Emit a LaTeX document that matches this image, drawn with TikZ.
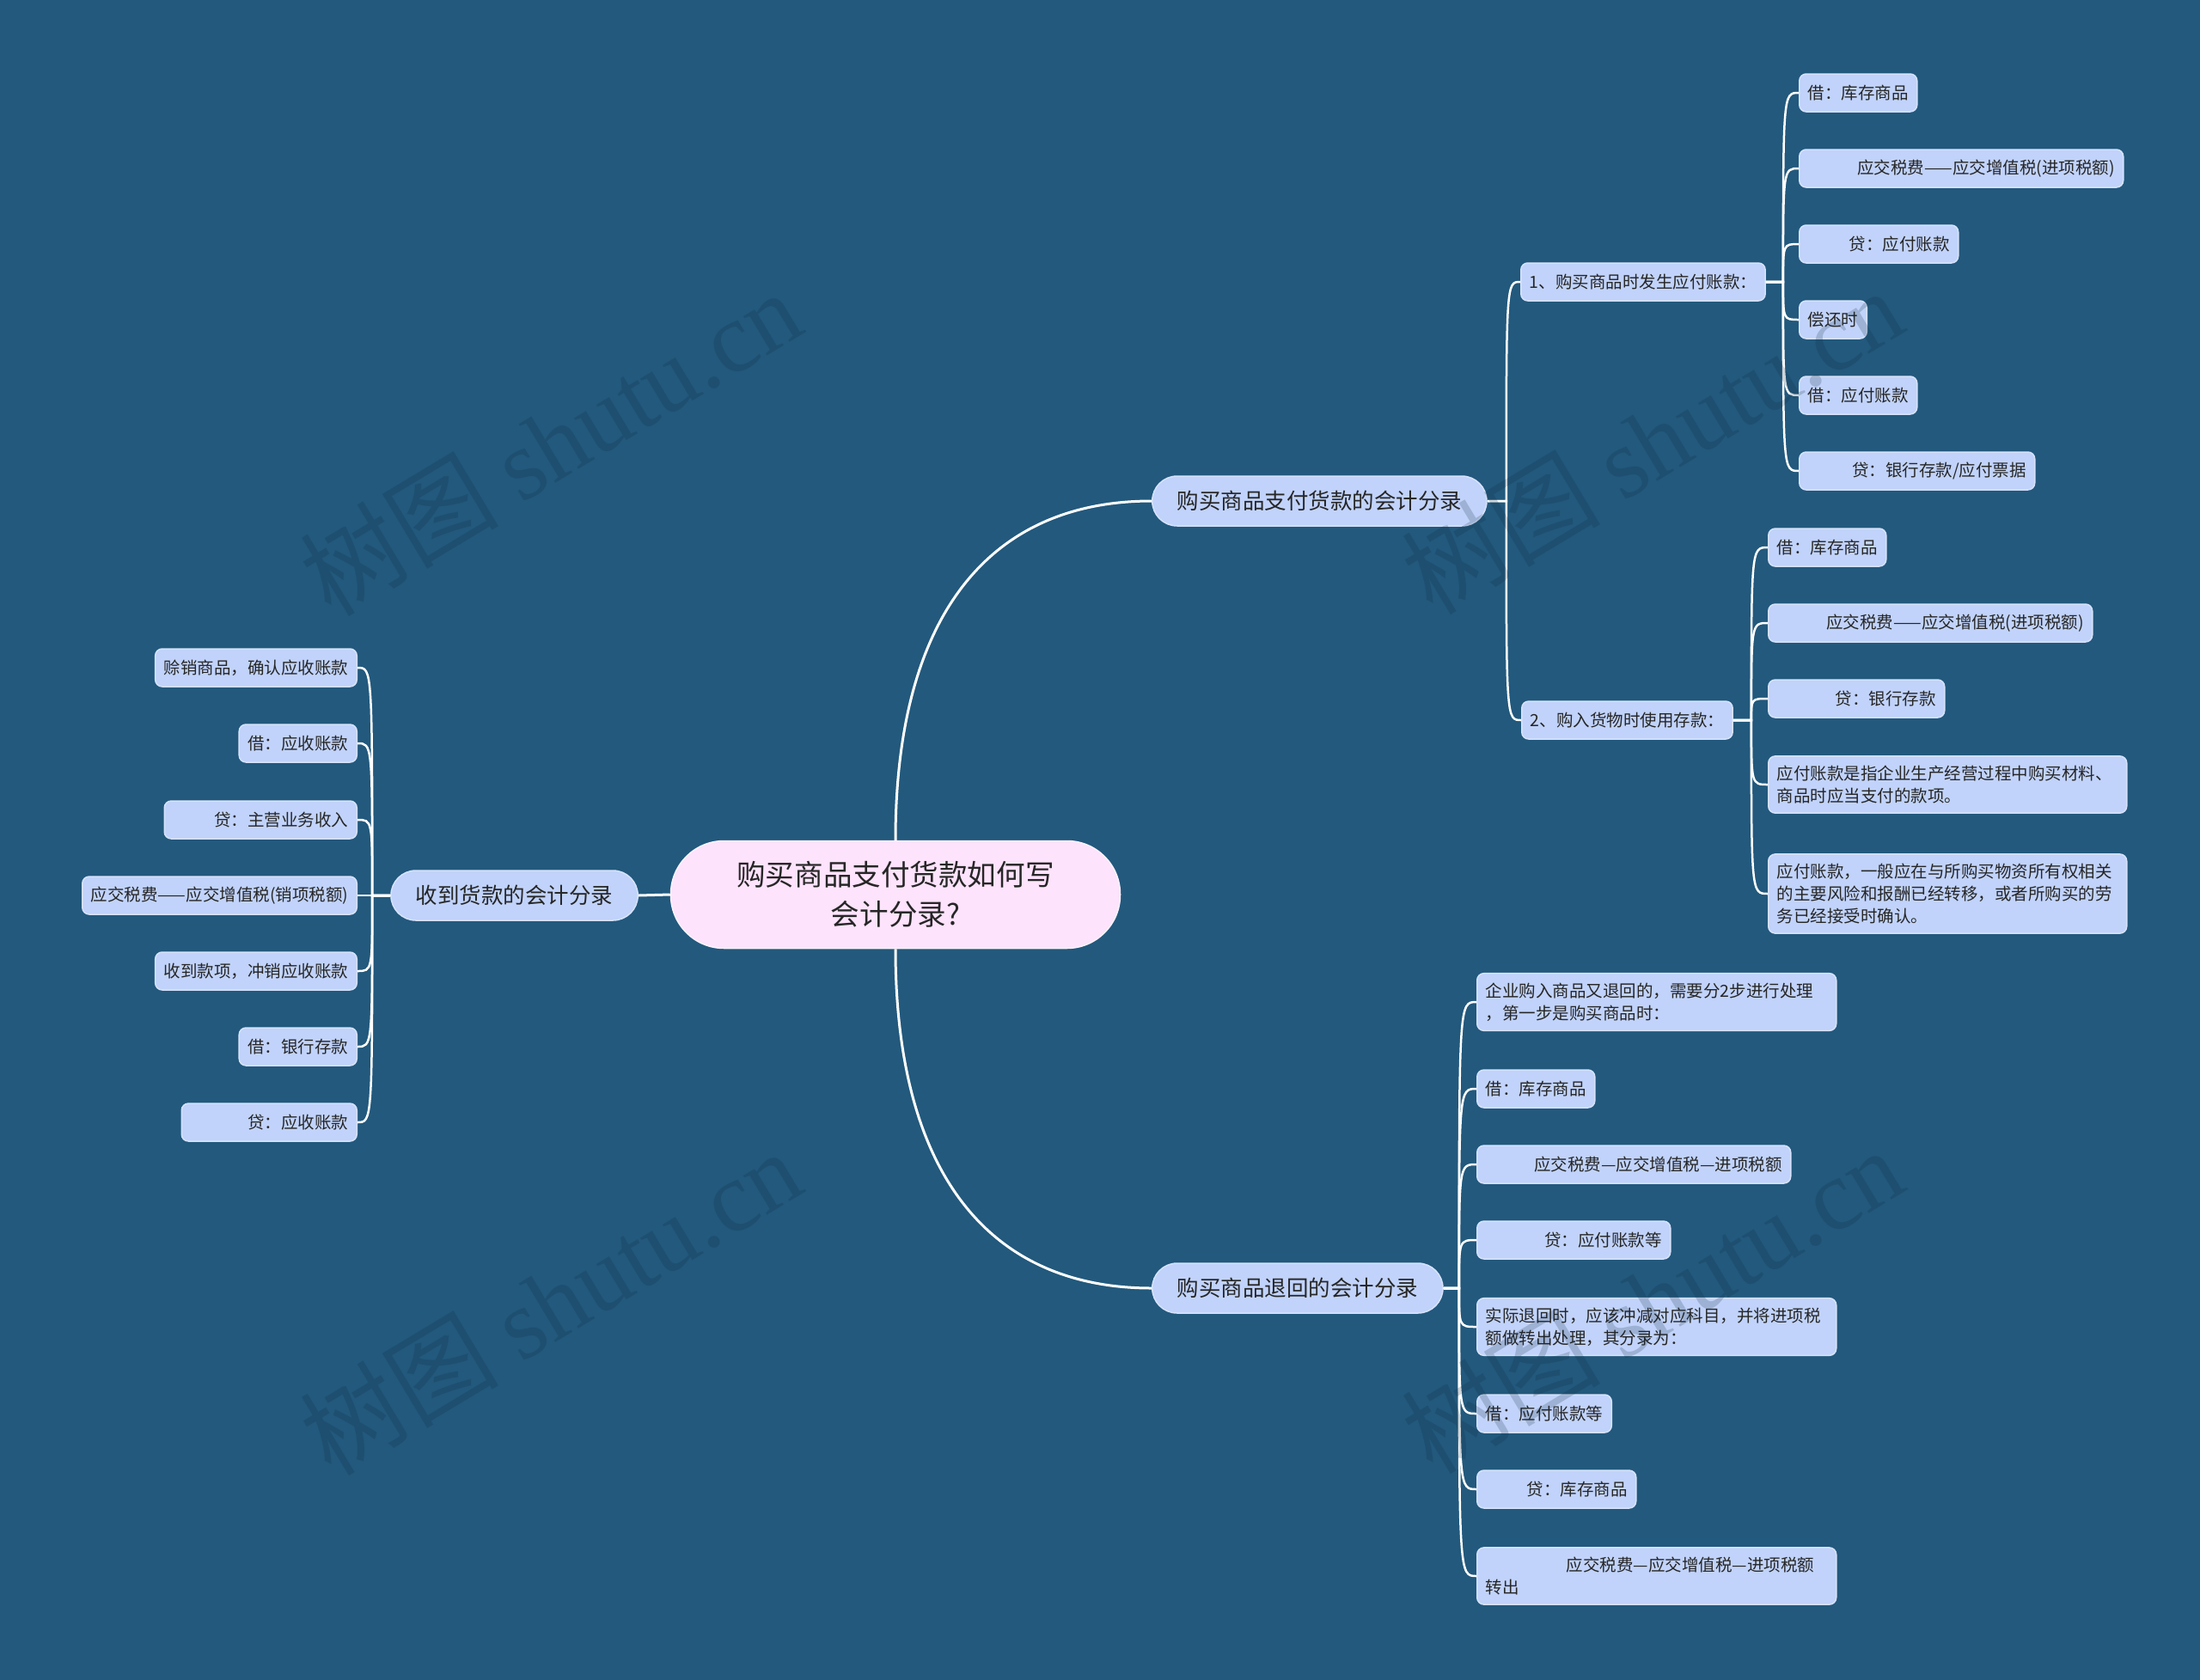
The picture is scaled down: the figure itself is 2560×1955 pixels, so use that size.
\documentclass[tikz,border=0pt]{standalone}
\usepackage{fontspec}
\setmainfont{Noto Sans CJK SC}
\newfontfamily\wmlatin{Liberation Serif}
\usepackage{tikz}
\usetikzlibrary{calc}

\definecolor{bgcol}{HTML}{22597D}
\definecolor{boxfill}{HTML}{C1D3FA}
\definecolor{boxedge}{HTML}{D6E2FC}
\definecolor{rootfill}{HTML}{FDE3FB}
\definecolor{inkcol}{HTML}{262626}
\definecolor{wmcol}{HTML}{0F2A3C}

\newcommand{\leaffont}{\fontsize{5.55pt}{7.4pt}\selectfont}
\newcommand{\topicfont}{\fontsize{7.25pt}{9pt}\selectfont}
\newcommand{\rootfont}{\fontsize{9.55pt}{13.1pt}\selectfont}

\tikzset{
  leaf/.style={draw=boxedge, line width=0.15mm, fill=boxfill, rounded corners=0.8mm, inner xsep=1mm, inner ysep=1.1mm, minimum height=4.4mm, text=inkcol, font=\leaffont},
  topic/.style={draw=boxedge, line width=0.15mm, fill=boxfill, rounded corners=2.9mm, inner xsep=2.9mm, minimum height=5.8mm, text=inkcol, font=\topicfont},
  root/.style={draw=white!55!rootfill, line width=0.15mm, fill=rootfill, rounded corners=6.2mm, minimum width=52.3mm, minimum height=12.5mm, align=center, text=inkcol, font=\rootfont},
  link/.style={draw=white, line width=0.25mm},
  wmark/.style={rotate=31, text=wmcol, text opacity=0.2, font=\fontsize{33pt}{33pt}\selectfont}
}

\begin{document}
\begin{tikzpicture}[x=0.1mm, y=-0.1mm]
  \useasboundingbox (0,0) rectangle (2560,1955);
  \fill[bgcol] (0,0) rectangle (2560,1955);

  \node[root] (root) at (1042,1041) {购买商品支付货款如何写\\会计分录?};
  \node[topic, anchor=west] (m1) at (1340,583) {购买商品支付货款的会计分录};
  \node[topic, anchor=west] (m2) at (1340,1499) {购买商品退回的会计分录};
  \node[topic, anchor=east] (m3) at (743,1042) {收到货款的会计分录};

  \node[leaf, anchor=west] (s1) at (1769,328) {1、购买商品时发生应付账款：};
  \node[leaf, anchor=west] (s2) at (1770,838) {2、购入货物时使用存款：};

  \node[leaf, anchor=west] (l11) at (2093,108) {借：库存商品};
  \node[leaf, anchor=west, text width=35.7mm, align=right] (l12) at (2093,196) {应交税费——应交增值税(进项税额)};
  \node[leaf, anchor=west, text width=16.5mm, align=right] (l13) at (2093,284) {贷：应付账款};
  \node[leaf, anchor=west] (l14) at (2093,372) {偿还时};
  \node[leaf, anchor=west] (l15) at (2093,460) {借：应付账款};
  \node[leaf, anchor=west, text width=25.4mm, align=right] (l16) at (2093,548) {贷：银行存款/应付票据};

  \node[leaf, anchor=west] (l21) at (2057,637) {借：库存商品};
  \node[leaf, anchor=west, text width=35.7mm, align=right] (l22) at (2057,725) {应交税费——应交增值税(进项税额)};
  \node[leaf, anchor=west, text width=18.5mm, align=right] (l23) at (2057,813) {贷：银行存款};
  \node[leaf, anchor=west, text width=39.7mm, align=left] (l24) at (2057,913) {应付账款是指企业生产经营过程中购买材料、\\商品时应当支付的款项。};
  \node[leaf, anchor=west, text width=39.7mm, align=left] (l25) at (2057,1040) {应付账款，一般应在与所购买物资所有权相关\\的主要风险和报酬已经转移，或者所购买的劳\\务已经接受时确认。};

  \node[leaf, anchor=west, text width=39.8mm, align=left] (l31) at (1718,1166) {企业购入商品又退回的，需要分2步进行处理\\，第一步是购买商品时：};
  \node[leaf, anchor=west] (l32) at (1718,1267) {借：库存商品};
  \node[leaf, anchor=west, text width=34.5mm, align=right] (l33) at (1718,1355) {应交税费—应交增值税—进项税额};
  \node[leaf, anchor=west, text width=20.5mm, align=right] (l34) at (1718,1443) {贷：应付账款等};
  \node[leaf, anchor=west, text width=39.8mm, align=left] (l35) at (1718,1544) {实际退回时，应该冲减对应科目，并将进项税\\额做转出处理，其分录为：};
  \node[leaf, anchor=west] (l36) at (1718,1645) {借：应付账款等};
  \node[leaf, anchor=west, text width=16.5mm, align=right] (l37) at (1718,1733) {贷：库存商品};
  \node[leaf, anchor=west, text width=39.8mm, align=left] (l38) at (1718,1834) {\hspace*{9.4mm}应交税费—应交增值税—进项税额\\转出};

  \node[leaf, anchor=east] (r1) at (416,777) {赊销商品，确认应收账款};
  \node[leaf, anchor=east] (r2) at (416,865) {借：应收账款};
  \node[leaf, anchor=east, text width=20.4mm, align=right] (r3) at (416,954) {贷：主营业务收入};
  \node[leaf, anchor=east] (r4) at (416,1042) {应交税费——应交增值税(销项税额)};
  \node[leaf, anchor=east] (r5) at (416,1130) {收到款项，冲销应收账款};
  \node[leaf, anchor=east] (r6) at (416,1218) {借：银行存款};
  \node[leaf, anchor=east, text width=18.4mm, align=right] (r7) at (416,1306) {贷：应收账款};

  \draw[link, line width=0.3mm] (root.north) .. controls +(0,-260) and +(-190,0) .. (m1.west);
  \draw[link, line width=0.3mm] (root.south) .. controls +(0,260) and +(-190,0) .. (m2.west);
  \draw[link, line width=0.3mm] (root.west) -- (m3.east);

  \foreach \s in {s1,s2}
    \draw[link] (m1.east) -- ++(22,0) coordinate (j) .. controls (j |- \s.west) .. (\s.west);
  \foreach \s in {l11,l12,l13,l14,l15,l16}
    \draw[link] (s1.east) -- ++(20,0) coordinate (j) .. controls (j |- \s.west) .. (\s.west);
  \foreach \s in {l21,l22,l23,l24,l25}
    \draw[link] (s2.east) -- ++(21,0) coordinate (j) .. controls (j |- \s.west) .. (\s.west);
  \foreach \s in {l31,l32,l33,l34,l35,l36,l37,l38}
    \draw[link] (m2.east) -- ++(18,0) coordinate (j) .. controls (j |- \s.west) .. (\s.west);
  \foreach \s in {r1,r2,r3,r4,r5,r6,r7}
    \draw[link] (m3.west) -- ++(-21,0) coordinate (j) .. controls (j |- \s.east) .. (\s.east);

  \node[wmark] (wm1) at (640,515) {树图 {\wmlatin shutu.cn}};
  \node[wmark] (wm2) at (1922,513) {树图 {\wmlatin shutu.cn}};
  \node[wmark] (wm3) at (640,1515) {树图 {\wmlatin shutu.cn}};
  \node[wmark] (wm4) at (1922,1513) {树图 {\wmlatin shutu.cn}};
\end{tikzpicture}
\end{document}
